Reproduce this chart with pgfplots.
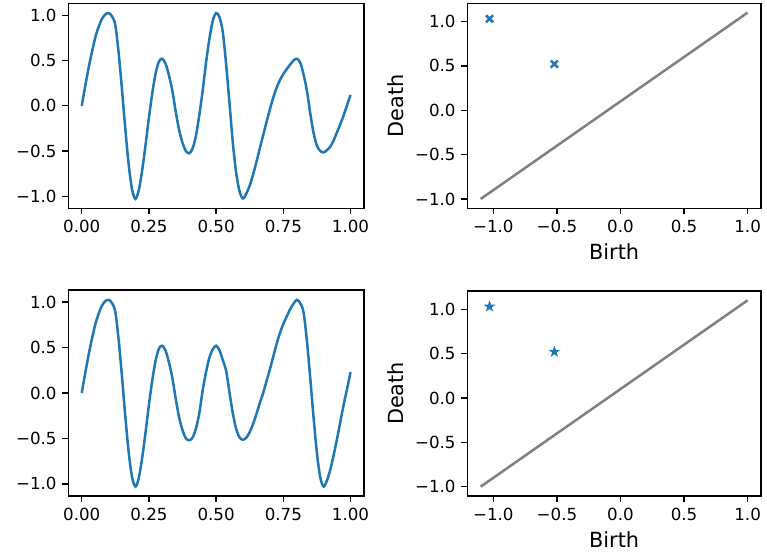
\documentclass[border=0pt]{standalone}
\usepackage{fontspec}
\setmainfont{DejaVu Sans}
\usepackage{pgfplots}
\pgfplotsset{compat=1.18}
\usepackage{pgfplotstable}

\definecolor{mplblue}{HTML}{1F77B4}
\definecolor{diaggray}{HTML}{808080}

% filled five-pointed star marker
\pgfdeclareplotmark{fstar}{%
  \pgfpathmoveto{\pgfpointpolar{90}{\pgfplotmarksize}}%
  \pgfpathlineto{\pgfpointpolar{126}{0.382\pgfplotmarksize}}%
  \pgfpathlineto{\pgfpointpolar{162}{\pgfplotmarksize}}%
  \pgfpathlineto{\pgfpointpolar{198}{0.382\pgfplotmarksize}}%
  \pgfpathlineto{\pgfpointpolar{234}{\pgfplotmarksize}}%
  \pgfpathlineto{\pgfpointpolar{270}{0.382\pgfplotmarksize}}%
  \pgfpathlineto{\pgfpointpolar{306}{\pgfplotmarksize}}%
  \pgfpathlineto{\pgfpointpolar{342}{0.382\pgfplotmarksize}}%
  \pgfpathlineto{\pgfpointpolar{18}{\pgfplotmarksize}}%
  \pgfpathlineto{\pgfpointpolar{54}{0.382\pgfplotmarksize}}%
  \pgfpathclose
  \pgfusepathqfillstroke
}

% signal 1
\pgfplotstableread{
x y
0 0
0.0125 0.21
0.025 0.41
0.0375 0.59
0.05 0.75
0.0625 0.87
0.075 0.96
0.0875 1.01
0.1 1.025
0.1125 0.99
0.125 0.89
0.1375 0.58
0.15 0.17
0.1625 -0.27
0.175 -0.66
0.1875 -0.93
0.2 -1.03
0.2125 -0.93
0.225 -0.71
0.2375 -0.43
0.25 -0.13
0.2625 0.14
0.275 0.36
0.2875 0.49
0.3 0.52
0.3125 0.46
0.325 0.33
0.3375 0.16
0.35 -0.07
0.3625 -0.27
0.375 -0.41
0.3875 -0.50
0.4 -0.525
0.4125 -0.47
0.425 -0.33
0.4375 -0.10
0.45 0.17
0.4625 0.48
0.475 0.74
0.4875 0.94
0.5 1.025
0.5125 0.98
0.525 0.81
0.5375 0.45
0.55 0.02
0.5625 -0.42
0.575 -0.75
0.5875 -0.95
0.6 -1.025
0.6125 -0.97
0.625 -0.88
0.6375 -0.76
0.65 -0.62
0.6625 -0.47
0.675 -0.325
0.6875 -0.18
0.7 -0.04
0.7125 0.09
0.725 0.20
0.7375 0.285
0.75 0.35
0.7625 0.405
0.775 0.455
0.7875 0.50
0.8 0.52
0.8125 0.48
0.825 0.35
0.8375 0.17
0.85 -0.08
0.8625 -0.30
0.875 -0.44
0.8875 -0.50
0.9 -0.515
0.9125 -0.49
0.925 -0.45
0.9375 -0.38
0.95 -0.29
0.9625 -0.20
0.975 -0.10
0.9875 0.01
1.0 0.12
}\sigA

% signal 2
\pgfplotstableread{
x y
0 0
0.0125 0.21
0.025 0.41
0.0375 0.59
0.05 0.75
0.0625 0.87
0.075 0.96
0.0875 1.01
0.1 1.025
0.1125 0.99
0.125 0.89
0.1375 0.58
0.15 0.17
0.1625 -0.27
0.175 -0.66
0.1875 -0.93
0.2 -1.03
0.2125 -0.93
0.225 -0.71
0.2375 -0.43
0.25 -0.13
0.2625 0.14
0.275 0.36
0.2875 0.49
0.3 0.52
0.3125 0.46
0.325 0.33
0.3375 0.16
0.35 -0.07
0.3625 -0.27
0.375 -0.41
0.3875 -0.50
0.4 -0.52
0.4125 -0.49
0.425 -0.39
0.4375 -0.22
0.45 0.03
0.4625 0.23
0.475 0.39
0.4875 0.48
0.5 0.52
0.5125 0.47
0.525 0.36
0.5375 0.24
0.55 0.0
0.5625 -0.23
0.575 -0.40
0.5875 -0.49
0.6 -0.515
0.6125 -0.49
0.625 -0.43
0.6375 -0.34
0.65 -0.23
0.6625 -0.11
0.675 0.0
0.6875 0.13
0.7 0.26
0.7125 0.40
0.725 0.54
0.7375 0.66
0.75 0.76
0.7625 0.84
0.775 0.92
0.7875 0.98
0.8 1.025
0.8125 0.99
0.825 0.89
0.8375 0.58
0.85 0.17
0.8625 -0.27
0.875 -0.66
0.8875 -0.93
0.9 -1.03
0.9125 -0.96
0.925 -0.84
0.9375 -0.68
0.95 -0.50
0.9625 -0.31
0.975 -0.12
0.9875 0.05
1.0 0.23
}\sigB

% persistence pairs (birth, death)
\pgfplotstableread{
b d
-1.03 1.03
-0.52 0.52
}\dgmA
\pgfplotstableread{
b d
-1.03 1.03
-0.52 0.52
}\dgmB

\pgfplotsset{
  panel/.style={
    scale only axis,
    anchor=south west,
    axis line style={line width=0.8pt},
    every tick/.style={black, line width=0.8pt},
    major tick length=3.5pt,
    tick align=outside,
    xtick pos=left, ytick pos=left,
    ticklabel style={font=\fontsize{10pt}{12pt}\selectfont},
    label style={font=\fontsize{12.5pt}{15pt}\selectfont},
    clip=true,
  },
  signal/.style={
    panel,
    width=177.4pt,
    xmin=-0.05, xmax=1.05,
    ymin=-1.133, ymax=1.133,
    xtick={0,0.25,0.5,0.75,1},
    xticklabels={0.00,0.25,0.50,0.75,1.00},
    ytick={-1,-0.5,0,0.5,1},
    yticklabels={−1.0,−0.5,0.0,0.5,1.0},
  },
  diagram/.style={
    panel,
    width=176.2pt,
    xmin=-1.205, xmax=1.105,
    ymin=-1.105, ymax=1.205,
    xtick={-1,-0.5,0,0.5,1},
    xticklabels={−1.0,−0.5,0.0,0.5,1.0},
    ytick={-1,-0.5,0,0.5,1},
    yticklabels={−1.0,−0.5,0.0,0.5,1.0},
    xlabel={Birth}, ylabel={Death},
  },
}

\begin{document}
\begin{tikzpicture}
\useasboundingbox (0pt,0pt) rectangle (460.2pt,-336pt);

% top row
\begin{axis}[signal, at={(40.98pt,-124.98pt)}, height=123pt]
  \addplot[mplblue, line width=1.5pt, smooth, no marks] table[x=x,y=y] {\sigA};
\end{axis}
\begin{axis}[diagram, at={(280.38pt,-124.98pt)}, height=123pt]
  \addplot[diaggray, line width=1.5pt, no marks] coordinates {(-1.1,-1.0) (1.0,1.1)};
  \addplot[only marks, mark=x, mark size=3pt, mplblue, line width=1.5pt] table[x=b,y=d] {\dgmA};
\end{axis}

% bottom row
\begin{axis}[signal, at={(40.98pt,-297.6pt)}, height=123.6pt]
  \addplot[mplblue, line width=1.5pt, smooth, no marks] table[x=x,y=y] {\sigB};
\end{axis}
\begin{axis}[diagram, at={(280.38pt,-297.6pt)}, height=123pt]
  \addplot[diaggray, line width=1.5pt, no marks] coordinates {(-1.1,-1.0) (1.0,1.1)};
  \addplot[only marks, mark=fstar, mark size=2.8pt, mplblue, fill=mplblue, line width=0.6pt] table[x=b,y=d] {\dgmB};
\end{axis}
\end{tikzpicture}
\end{document}
